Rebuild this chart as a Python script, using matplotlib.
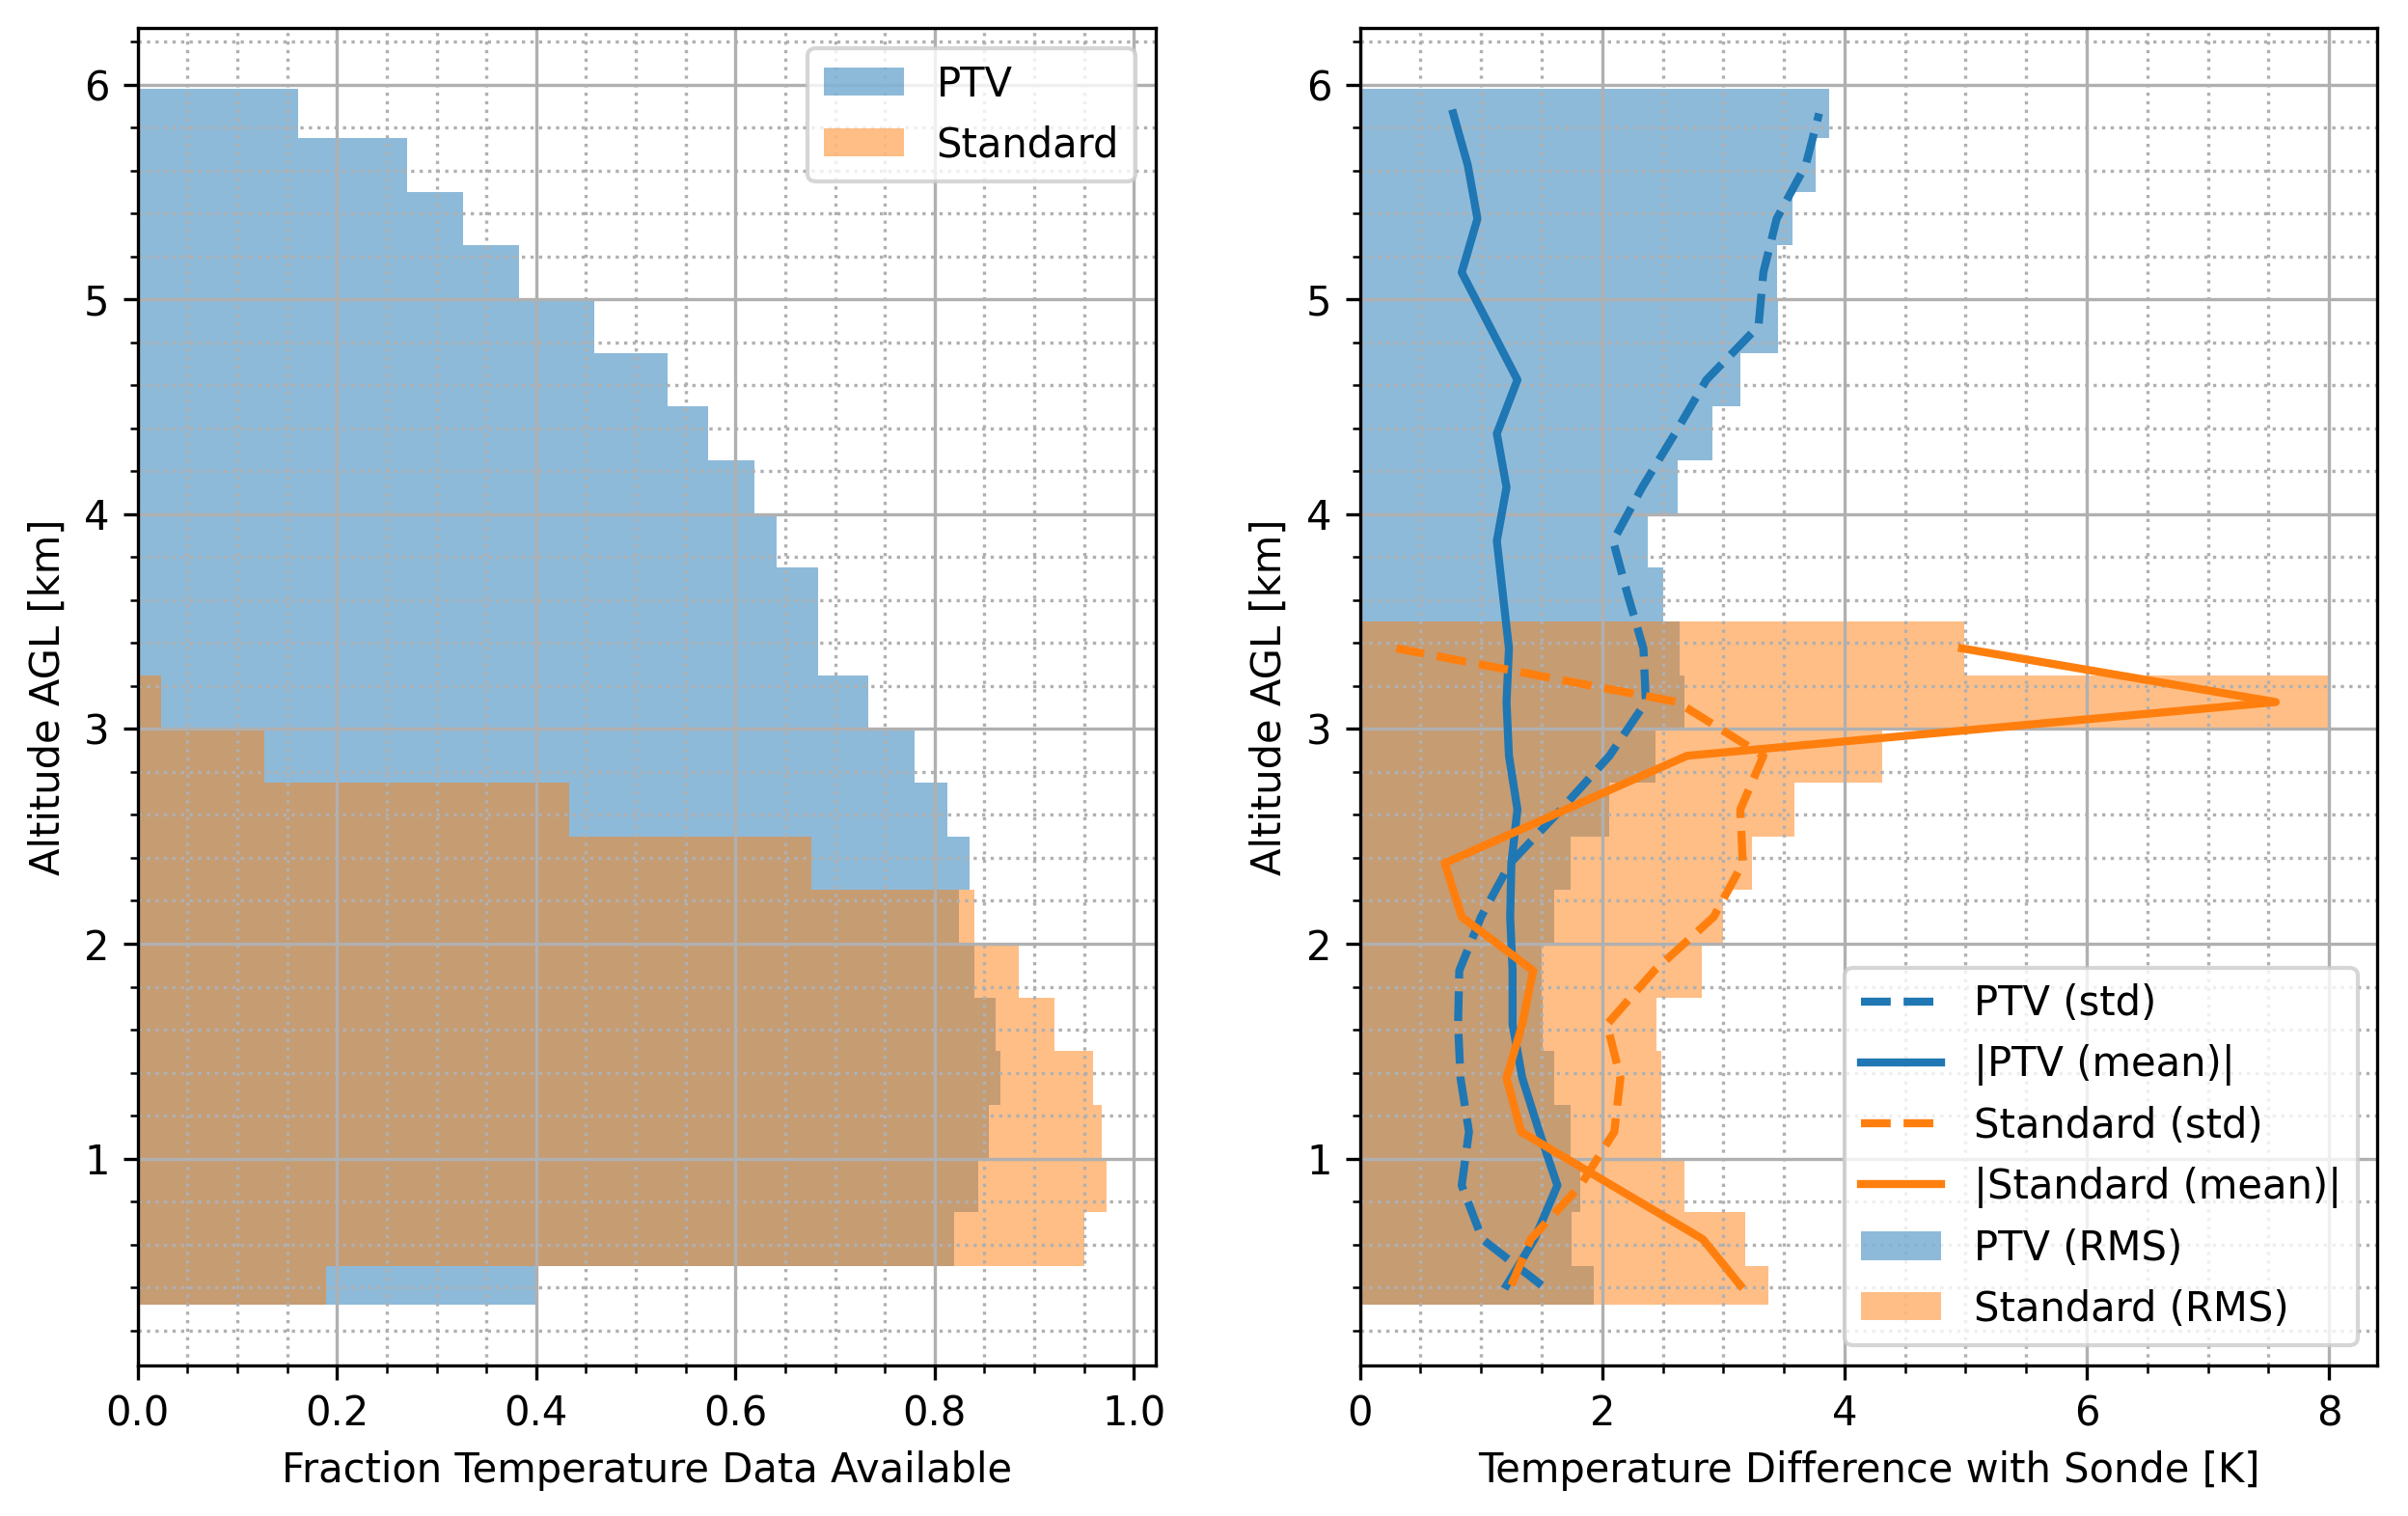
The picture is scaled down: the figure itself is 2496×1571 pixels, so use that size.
import numpy as np
import matplotlib
matplotlib.use("Agg")
import matplotlib.pyplot as plt

# altitude bin edges [km]
alt_edges = [0.32, 0.5, 0.75, 1.0, 1.25, 1.5, 1.75, 2.0, 2.25, 2.5, 2.75, 3.0,
             3.25, 3.5, 3.75, 4.0, 4.25, 4.5, 4.75, 5.0, 5.25, 5.5, 5.75, 5.98]

# fraction of temperature data available
ptv_frac = [0.402, 0.820, 0.844, 0.854, 0.866, 0.861, 0.840, 0.824, 0.835, 0.813,
            0.780, 0.733, 0.683, 0.683, 0.641, 0.619, 0.573, 0.532, 0.458, 0.383,
            0.327, 0.270, 0.161]
std_frac = [0.189, 0.950, 0.973, 0.968, 0.959, 0.920, 0.884, 0.840, 0.676, 0.433,
            0.127, 0.023, 0.0]

# differences with sonde [K]
ptv_rms = [1.93, 1.75, 1.82, 1.74, 1.60, 1.51, 1.50, 1.60, 1.74, 2.06, 2.44, 2.68,
           2.64, 2.50, 2.38, 2.62, 2.91, 3.14, 3.45, 3.44, 3.57, 3.76, 3.87]
ptv_std = [1.50, 1.01, 0.84, 0.90, 0.83, 0.81, 0.82, 1.00, 1.24, 1.66, 2.06, 2.36,
           2.34, 2.21, 2.09, 2.33, 2.60, 2.86, 3.29, 3.33, 3.44, 3.68, 3.79]
ptv_mean = [1.21, 1.44, 1.63, 1.48, 1.34, 1.26, 1.26, 1.24, 1.25, 1.30, 1.23, 1.21,
            1.23, 1.18, 1.13, 1.21, 1.13, 1.30, 1.07, 0.84, 0.97, 0.89, 0.77]
sta_rms = [3.37, 3.18, 2.68, 2.49, 2.49, 2.45, 2.82, 3.00, 3.24, 3.59, 4.31, 8.00, 4.99]
sta_std = [1.25, 1.41, 1.82, 2.10, 2.15, 2.04, 2.43, 2.92, 3.16, 3.14, 3.33, 2.62, 0.30]
sta_mean = [3.14, 2.83, 2.08, 1.33, 1.21, 1.34, 1.43, 0.84, 0.70, 1.70, 2.70, 7.56, 4.97]

edges = np.array(alt_edges)
bottoms = edges[:-1]
heights = np.diff(edges)
centers = bottoms + heights / 2
n_std = len(std_frac)

fig, (ax1, ax2) = plt.subplots(1, 2, figsize=(8.323, 5.237), dpi=300)
fig.subplots_adjust(left=0.0572, right=0.987, bottom=0.0993, top=0.9815, wspace=0.201)

# panel 1: data availability
ax1.barh(bottoms, ptv_frac, height=heights, align='edge', color='C0', alpha=0.5, label='PTV')
ax1.barh(bottoms[:n_std], std_frac, height=heights[:n_std], align='edge', color='C1',
         alpha=0.5, label='Standard')
ax1.set_xlabel('Fraction Temperature Data Available')
ax1.set_ylabel('Altitude AGL [km]')
ax1.legend(loc='upper right')

# panel 2: differences
ax2.plot(ptv_std, centers, '--', color='C0', lw=2, label='PTV (std)')
ax2.plot(ptv_mean, centers, '-', color='C0', lw=2, label='|PTV (mean)|')
ax2.plot(sta_std, centers[:n_std], '--', color='C1', lw=2, label='Standard (std)')
ax2.plot(sta_mean, centers[:n_std], '-', color='C1', lw=2, label='|Standard (mean)|')
ax2.barh(bottoms, ptv_rms, height=heights, align='edge', color='C0', alpha=0.5, label='PTV (RMS)')
ax2.barh(bottoms[:n_std], sta_rms, height=heights[:n_std], align='edge', color='C1',
         alpha=0.5, label='Standard (RMS)')
ax2.set_xlabel('Temperature Difference with Sonde [K]')
ax2.set_ylabel('Altitude AGL [km]')
ax2.legend(loc='lower right')

for ax in (ax1, ax2):
    ax.minorticks_on()
    ax.grid(which='major')
    ax.grid(which='minor', linestyle=':')

fig.savefig('out.png', dpi=300)
